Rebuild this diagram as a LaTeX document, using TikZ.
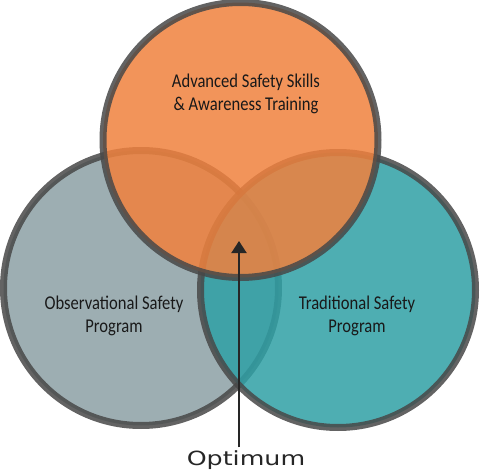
\documentclass[tikz,border=0pt]{standalone}
\usepackage{fontspec}
\setmainfont{Carlito}
\newfontfamily\labelfont[FakeStretch=0.85]{Carlito}
\newfontfamily\optfont[FakeStretch=1.3]{DejaVu Sans}
\usepackage{xcolor}
\usepackage{tikz}
\usetikzlibrary{positioning, arrows.meta}
\definecolor{ringgray}{HTML}{484848}
\definecolor{setorange}{RGB}{240,129,61}
\definecolor{setteal}{RGB}{47,160,165}
\definecolor{setgray}{RGB}{140,160,165}
\begin{document}
\begin{tikzpicture}[x=1pt,y=-1pt,>={Triangle[width=15pt,length=12pt]},
			set node/.style={circle,draw=ringgray,line width=7pt,minimum size=275pt,inner sep=0pt,opacity=0.85},
			text node/.style={font=\labelfont\fontsize{19.5}{23}\selectfont,align=center,text=black!90}]
			
			\useasboundingbox (0,0) rectangle (480,471);
			\node[set node,fill=setgray] (observe) at (141,288) {};
			\node[set node,fill=setteal] (tradition) at (338,290) {};
			\node[set node,fill=setorange] (advanced) at (240.5,140) {};
			
			\node[text node] (advlabel) at (246,94) {Advanced Safety Skills\\\& Awareness Training};
			\node[text node] (obslabel) at (114,316) {Observational Safety\\Program};
			\node[text node] (tradlabel) at (357,316) {Traditional Safety\\Program};
			
			\node[font=\optfont\fontsize{19.5}{19.5}\selectfont,text=black!85,inner sep=3pt] (optimum) at (246,460) {Optimum};
			\coordinate (best) at (239,241);
			\draw[->,line width=2pt,black!85] (optimum.north -| best) -- (best);
		\end{tikzpicture}
\end{document}
